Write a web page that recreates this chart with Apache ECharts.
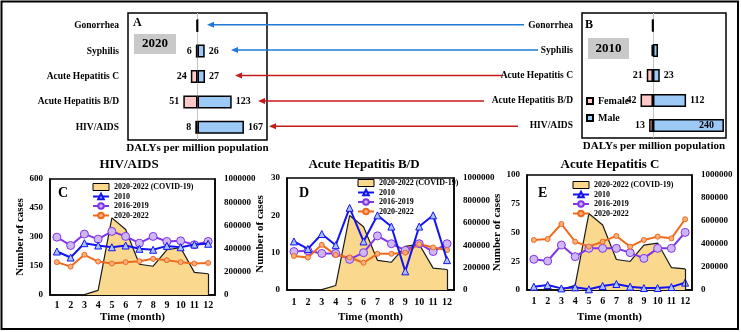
<!DOCTYPE html>
<html>
<head>
<meta charset="utf-8">
<script src="https://cdn.jsdelivr.net/npm/echarts@6/dist/echarts.min.js"></script>
<style>
  html, body { margin: 0; padding: 0; background: #fff; }
  #chart { width: 741px; height: 332px; }
</style>
</head>
<body>
<div id="chart"></div>
<script>
// top panels: DALYs per million population, by sex
const diseases = ['Gonorrhea', 'Syphilis', 'Acute Hepatitis C', 'Acute Hepatitis B/D', 'HIV/AIDS'];
const female2020 = [4, 6, 24, 51, 8];
const male2020 = [1, 26, 27, 123, 167];
const female2010 = [3, 5, 21, 42, 13];
const male2010 = [1, 17, 23, 112, 240];
const labelled2020 = [false, true, true, true, true];
const labelled2010 = [false, false, true, true, true];

// bottom panels: monthly cases
const months = ['1', '2', '3', '4', '5', '6', '7', '8', '9', '10', '11', '12'];
const covidCases = [0, 0, 3000, 40000, 665000, 565000, 265000, 248000, 390000, 408000, 195000, 183000];
const hiv2010 = [225, 194, 268, 256, 247, 256, 239, 234, 254, 247, 261, 265];
const hiv1619 = [299, 256, 315, 289, 329, 303, 268, 303, 277, 280, 260, 277];
const hiv2022 = [170, 147, 208, 173, 163, 170, 175, 187, 180, 170, 163, 166];
const hbd2010 = [13, 11, 15, 12, 22, 13, 20, 17, 5, 17, 20, 8];
const hbd1619 = [10.3, 10.5, 9.8, 9.8, 8.2, 10, 14.5, 12.4, 10.6, 12.4, 10.3, 12.4];
const hbd2022 = [9.1, 8.7, 12.1, 9.4, 8.7, 7.3, 9.7, 9.7, 10, 12.3, 11.4, 10.7];
const hc2010 = [2.9, 4.3, 1.4, 2.3, 0.6, 3.5, 5.2, 2.9, 1.7, 1.7, 2.6, 6.4];
const hc1619 = [26.7, 25.2, 39.1, 29, 36.2, 36.2, 36.2, 32.5, 27.5, 36.2, 36.2, 50.1];
const hc2022 = [43.5, 44.3, 57.4, 42, 37.7, 42, 47, 37.7, 43.5, 46.4, 44.9, 61.5];

const SERIF = '"Liberation Serif", "Times New Roman", serif';
const txt = (size) => ({ fontFamily: SERIF, fontWeight: 'bold', fontSize: size, color: '#000' });
const font = (size) => 'bold ' + size + 'px ' + SERIF;

const grids = [], xAxes = [], yAxes = [], series = [], legends = [];

function barPanel(rect, xmin, xmax, female, male, labelled, insideIdx) {
  const g = grids.length;
  grids.push(Object.assign({ show: true, borderColor: '#000', borderWidth: 1.5, outerBoundsMode: 'none' }, rect));
  xAxes.push({
    type: 'value', gridIndex: g, min: xmin, max: xmax,
    axisLine: { show: false }, axisTick: { show: false }, axisLabel: { show: false }, splitLine: { show: false },
    name: 'DALYs per million population', nameLocation: 'middle', nameGap: 3, nameTextStyle: txt(11)
  });
  const yi = yAxes.length;
  yAxes.push({
    type: 'category', gridIndex: g, data: diseases, inverse: true,
    axisLine: { show: false }, axisTick: { show: false }, splitLine: { show: false },
    axisLabel: Object.assign(txt(9.5), { margin: 9 })
  });
  const lab = (pos) => Object.assign(txt(10), {
    show: true, position: pos, distance: 4,
    formatter: (p) => labelled[p.dataIndex] ? String(Math.abs(p.value)) : ''
  });
  series.push({
    type: 'bar', name: 'Female', xAxisIndex: g, yAxisIndex: yi, barWidth: 13, barGap: '-100%',
    itemStyle: { color: '#FFC8C8', borderColor: '#000', borderWidth: 1.5 },
    label: lab('left'),
    data: female.map((v) => -v)
  });
  series.push({
    type: 'bar', name: 'Male', xAxisIndex: g, yAxisIndex: yi, barWidth: 13, barGap: '-100%',
    itemStyle: { color: '#9DC9F7', borderColor: '#000', borderWidth: 1.5 },
    label: lab('right'),
    data: male.map((v, i) => i === insideIdx ? { value: v, label: { position: 'insideRight', distance: 10 } } : v),
    markLine: {
      silent: true, symbol: 'none', label: { show: false }, z: 1,
      lineStyle: { color: '#c4c4c4', width: 1, type: 'solid' },
      data: [{ xAxis: 0 }]
    }
  });
  return yi;
}

function linePanel(rect, maxLeft, stepLeft, s2010, s1619, s2022, opts) {
  const g = grids.length;
  grids.push(Object.assign({ show: true, borderColor: '#000', borderWidth: 1.5, outerBoundsMode: 'none' }, rect));
  xAxes.push({
    type: 'category', gridIndex: g, data: months, boundaryGap: true,
    axisLine: { lineStyle: { color: '#000', width: 1.5 } }, axisTick: { show: false },
    axisLabel: Object.assign(txt(10), { margin: opts.labelMargin }),
    name: 'Time (month)', nameLocation: 'middle', nameGap: opts.nameGapX, nameTextStyle: txt(11)
  });
  const yl = yAxes.length;
  yAxes.push({
    type: 'value', gridIndex: g, position: 'left', min: 0, max: maxLeft, interval: stepLeft,
    axisLine: { show: true, lineStyle: { color: '#000', width: 1.5 } }, axisTick: { show: false },
    splitLine: { show: false }, axisLabel: Object.assign(txt(9), { margin: 7 }),
    name: 'Number of cases', nameLocation: 'middle', nameRotate: 90, nameGap: opts.nameGapY, nameTextStyle: txt(11)
  });
  yAxes.push({
    type: 'value', gridIndex: g, position: 'right', min: 0, max: 1000000, interval: 200000,
    axisLine: { show: true, lineStyle: { color: '#000', width: 1.5 } }, axisTick: { show: false },
    splitLine: { show: false }, axisLabel: Object.assign(txt(9), { margin: 9, formatter: (v) => String(v) })
  });
  series.push({
    type: 'line', name: '2020-2022 (COVID-19)', xAxisIndex: g, yAxisIndex: yl + 1, z: 1,
    symbol: 'none', data: covidCases,
    lineStyle: { color: '#1a1a1a', width: 1.2 },
    itemStyle: { color: '#1a1a1a' },
    areaStyle: { color: '#FAD98F', opacity: 1 },
    markLine: {
      silent: true, symbol: 'none', label: { show: false },
      lineStyle: { color: '#1a1a1a', width: 1.2, type: 'solid' },
      data: [[{ coord: [months[11], 0] }, { coord: [months[11], covidCases[11]] }]]
    }
  });
  series.push({
    type: 'line', name: '2010', xAxisIndex: g, yAxisIndex: yl, z: 4, data: s2010,
    symbol: 'triangle', symbolSize: 7,
    lineStyle: { color: '#1414F0', width: 2 },
    itemStyle: { color: '#A9C3FF', borderColor: '#1414F0', borderWidth: 1 }
  });
  series.push({
    type: 'line', name: '2016-2019', xAxisIndex: g, yAxisIndex: yl, z: 3, data: s1619,
    symbol: 'circle', symbolSize: 8,
    lineStyle: { color: '#8134E6', width: 2 },
    itemStyle: { color: '#CDB8F5', borderColor: '#8134E6', borderWidth: 1 }
  });
  series.push({
    type: 'line', name: '2020-2022', xAxisIndex: g, yAxisIndex: yl, z: 3, data: s2022,
    symbol: 'circle', symbolSize: 5,
    lineStyle: { color: '#F06A1E', width: 2 },
    itemStyle: { color: '#F8B07C', borderColor: '#F06A1E', borderWidth: 1 }
  });
  legends.push({
    left: opts.legendLeft, top: opts.legendTop, orient: 'vertical', padding: 0,
    itemGap: 1.5, itemWidth: 16, itemHeight: 7, textStyle: txt(8),
    data: [
      { name: '2020-2022 (COVID-19)', icon: 'rect', itemStyle: { color: '#FAD98F', borderColor: '#000', borderWidth: 1 } },
      '2010', '2016-2019', '2020-2022'
    ]
  });
}

const yA = barPanel({ left: 128, top: 13, width: 139, height: 127 }, -250, 250, female2020, male2020, labelled2020, -1);
barPanel({ left: 582, top: 13, width: 144, height: 125 }, -240, 247, female2010, male2010, labelled2010, 4);

legends.push({
  data: ['Female', 'Male'], left: 586, top: 96, orient: 'vertical', padding: 0,
  icon: 'rect', itemWidth: 6, itemHeight: 6, itemGap: 7, textStyle: txt(10)
});

linePanel({ left: 50, top: 179, width: 165, height: 116 }, 600, 150, hiv2010, hiv1619, hiv2022,
  { labelMargin: 5, nameGapX: 17, nameGapY: 22, legendLeft: 92, legendTop: 183 });
linePanel({ left: 287, top: 178, width: 167, height: 112 }, 30, 10, hbd2010, hbd1619, hbd2022,
  { labelMargin: 7, nameGapX: 22, nameGapY: 21, legendLeft: 357, legendTop: 179 });
linePanel({ left: 527, top: 175, width: 165, height: 115 }, 100, 25, hc2010, hc1619, hc2022,
  { labelMargin: 6, nameGapX: 22, nameGapY: 19, legendLeft: 572, legendTop: 181 });

const textAt = (x, y, text, size, align) => ({
  type: 'text', x: x, y: y,
  style: { text: text, font: font(size), fill: '#000', align: align || 'left', verticalAlign: 'middle' }
});
const yearBox = (x, y, w, h, text) => ({
  type: 'group', x: x, y: y, children: [
    { type: 'rect', shape: { x: 0, y: 0, width: w, height: h }, style: { fill: '#C9C9C9' } },
    { type: 'text', x: w / 2, y: h / 2, style: { text: text, font: font(13), fill: '#000', align: 'center', verticalAlign: 'middle' } }
  ]
});

const staticGraphics = [
  { type: 'rect', shape: { x: 1.5, y: 1.5, width: 736.5, height: 327.5 }, style: { fill: 'none', stroke: '#000', lineWidth: 2 }, z: 100 },
  textAt(133, 23, 'A', 12), textAt(585, 25, 'B', 12),
  yearBox(134, 34, 42, 20, '2020'), yearBox(588, 38, 41, 21, '2010'),
  textAt(58, 193, 'C', 14), textAt(299, 193, 'D', 14), textAt(538, 193, 'E', 14),
  textAt(129, 165, 'HIV/AIDS', 13, 'center'),
  textAt(364, 165, 'Acute Hepatitis B/D', 13, 'center'),
  textAt(610, 165, 'Acute Hepatitis C', 13, 'center')
];

const chart = echarts.init(document.getElementById('chart'), null, { renderer: 'canvas' });
chart.setOption({
  animation: false,
  backgroundColor: '#fff',
  grid: grids,
  xAxis: xAxes,
  yAxis: yAxes,
  legend: legends,
  series: series,
  graphic: staticGraphics
});

// arrows linking each disease row of panel B to panel A
const BLUE = '#1E78D4', RED = '#C41A1A';
const arrowSpec = [
  { tail: 524, tip: 207, color: BLUE },
  { tail: 538, tip: 231, color: BLUE },
  { tail: 502, tip: 235, color: RED },
  { tail: 484, tip: 258, color: RED },
  { tail: 518, tip: 269, color: RED }
];
const arrows = [];
diseases.forEach((d, i) => {
  const y = chart.convertToPixel({ yAxisIndex: yA }, d) - 1;
  const a = arrowSpec[i];
  arrows.push({ type: 'line', shape: { x1: a.tail, y1: y, x2: a.tip + 5, y2: y }, style: { stroke: a.color, lineWidth: 1.5 } });
  arrows.push({ type: 'polygon', shape: { points: [[a.tip, y], [a.tip + 7, y - 3], [a.tip + 7, y + 3]] }, style: { fill: a.color } });
});
chart.setOption({ graphic: staticGraphics.concat(arrows) });
</script>
</body>
</html>
